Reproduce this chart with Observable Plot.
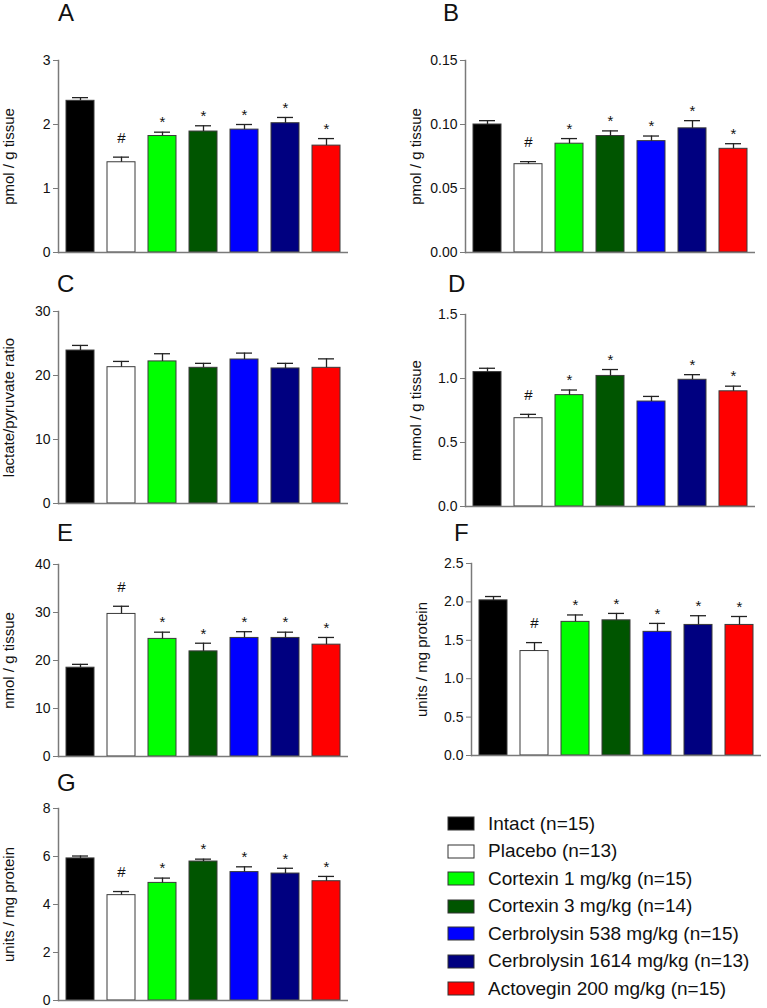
<!DOCTYPE html>
<html>
<head>
<meta charset="utf-8">
<script src="https://cdn.jsdelivr.net/npm/d3@7"></script>
<script src="https://cdn.jsdelivr.net/npm/@observablehq/plot@0.6"></script>
<style>
  html, body { margin: 0; padding: 0; background: #fff; }
  #root { position: relative; width: 767px; height: 1008px; overflow: hidden; font-family: "Liberation Sans", Arial, sans-serif; }
  .panel { position: absolute; }
  #letters { position: absolute; left: 0; top: 0; }
  #legend { position: absolute; left: 448px; top: 810px; }
  .leg-swatches { font-family: "Liberation Sans", Arial, sans-serif; font-size: 19px; color: #111; margin: 0; }
  .leg-swatch { height: 27.5px; margin: 0 !important; padding: 0 !important; display: flex; align-items: center; }
  .leg-swatch svg { margin-right: 14px !important; overflow: visible; }
  .leg-swatch svg rect { stroke: #333; stroke-width: 1; }
</style>
</head>
<body>
<div id="root"></div>
<script>
// ---- data ----
const groups = [
  "Intact (n=15)",
  "Placebo (n=13)",
  "Cortexin 1 mg/kg (n=15)",
  "Cortexin 3 mg/kg (n=14)",
  "Cerbrolysin 538 mg/kg (n=15)",
  "Cerbrolysin 1614 mg/kg (n=13)",
  "Actovegin 200 mg/kg (n=15)"
];
const colors = ["#000000", "#ffffff", "#00ff00", "#005500", "#0000ff", "#000080", "#ff0000"];

const valuesA = [2.37, 1.41, 1.82, 1.89, 1.92, 2.02, 1.67];
const errorsA = [0.05, 0.08, 0.06, 0.09, 0.08, 0.09, 0.11];
const signsA  = ["", "#", "*", "*", "*", "*", "*"];
const ticksA  = [0, 1, 2, 3];

const valuesB = [0.100, 0.069, 0.085, 0.091, 0.087, 0.097, 0.081];
const errorsB = [0.003, 0.002, 0.004, 0.004, 0.004, 0.006, 0.004];
const signsB  = ["", "#", "*", "*", "*", "*", "*"];
const ticksB  = [0, 0.05, 0.10, 0.15];

const valuesC = [23.9, 21.3, 22.2, 21.2, 22.5, 21.1, 21.2];
const errorsC = [0.8, 0.9, 1.2, 0.7, 1.0, 0.8, 1.4];
const signsC  = ["", "", "", "", "", "", ""];
const ticksC  = [0, 10, 20, 30];

const valuesD = [1.05, 0.69, 0.87, 1.02, 0.82, 0.99, 0.90];
const errorsD = [0.03, 0.03, 0.04, 0.05, 0.04, 0.04, 0.04];
const signsD  = ["", "#", "*", "*", "", "*", "*"];
const ticksD  = [0, 0.5, 1.0, 1.5];

const valuesE = [18.5, 29.7, 24.5, 21.9, 24.7, 24.7, 23.3];
const errorsE = [0.7, 1.6, 1.4, 1.7, 1.3, 1.2, 1.5];
const signsE  = ["", "#", "*", "*", "*", "*", "*"];
const ticksE  = [0, 10, 20, 30, 40];

const valuesF = [2.02, 1.36, 1.74, 1.76, 1.61, 1.70, 1.70];
const errorsF = [0.05, 0.11, 0.09, 0.09, 0.11, 0.12, 0.11];
const signsF  = ["", "#", "*", "*", "*", "*", "*"];
const ticksF  = [0, 0.5, 1.0, 1.5, 2.0, 2.5];

const valuesG = [5.92, 4.39, 4.90, 5.79, 5.35, 5.29, 4.97];
const errorsG = [0.10, 0.15, 0.20, 0.10, 0.22, 0.22, 0.20];
const signsG  = ["", "#", "*", "*", "*", "*", "*"];
const ticksG  = [0, 2, 4, 6, 8];

// ---- drawing ----
const FONT = '"Liberation Sans", Arial, sans-serif';
const AXIS = "#7a7a7a";
const root = document.getElementById("root");

function panel({values, errors, signs, ticks, fmt, label, left, top}) {
  const data = groups.map((g, i) => ({g, v: values[i], e: errors[i], s: signs[i]}));
  const mT = 20, mB = 12, H = 192;
  const chart = Plot.plot({
    width: 360,
    height: mT + H + mB,
    marginLeft: 58, marginRight: 12, marginTop: mT, marginBottom: mB,
    style: {fontFamily: FONT, fontSize: "14px", background: "transparent", overflow: "visible", color: "#111"},
    x: {type: "band", domain: groups, paddingInner: 0.32, paddingOuter: 0.18, axis: null},
    y: {domain: [0, ticks[ticks.length - 1]], axis: null},
    color: {domain: groups, range: colors},
    marks: [
      Plot.barY(data, {x: "g", y: "v", fill: "g", stroke: "#3a3a3a", strokeWidth: 1}),
      Plot.ruleX(data, {x: "g", y1: "v", y2: d => d.v + d.e, stroke: "#222", strokeWidth: 1.3}),
      Plot.tickY(data, {x: "g", y: d => d.v + d.e, stroke: "#222", strokeWidth: 1.3, insetLeft: 6, insetRight: 6}),
      Plot.text(data.filter(d => d.s === "*"), {x: "g", y: d => d.v + d.e, text: "s", dy: -9.5, fontSize: 15, fill: "#111"}),
      Plot.text(data.filter(d => d.s === "#"), {x: "g", y: d => d.v + d.e, text: "s", dy: -19, fontSize: 15, fill: "#111"}),
      Plot.axisY({ticks, tickFormat: fmt, tickSize: 5, tickPadding: 3, stroke: AXIS, fill: "#111", fontSize: 14, label: null}),
      Plot.text([label], {frameAnchor: "left", rotate: -90, textAnchor: "middle", lineAnchor: "bottom", dx: -45, fontSize: 15, fill: "#111"}),
      Plot.frame({anchor: "left", stroke: AXIS, strokeWidth: 1.5}),
      Plot.ruleY([0], {stroke: AXIS, strokeWidth: 1.5})
    ]
  });
  chart.classList.add("panel");
  chart.style.left = left + "px";
  chart.style.top = (top - mT) + "px";
  root.appendChild(chart);
}

const f0 = d3.format("d"), f1 = d3.format(".1f"), f2 = d3.format(".2f");
panel({values: valuesA, errors: errorsA, signs: signsA, ticks: ticksA, fmt: f0, label: "pmol / g tissue", left: 0, top: 60});
panel({values: valuesB, errors: errorsB, signs: signsB, ticks: ticksB, fmt: f2, label: "pmol / g tissue", left: 407, top: 60});
panel({values: valuesC, errors: errorsC, signs: signsC, ticks: ticksC, fmt: f0, label: "lactate/pyruvate ratio", left: 0, top: 311});
panel({values: valuesD, errors: errorsD, signs: signsD, ticks: ticksD, fmt: f1, label: "mmol / g tissue", left: 407, top: 314});
panel({values: valuesE, errors: errorsE, signs: signsE, ticks: ticksE, fmt: f0, label: "nmol / g tissue", left: 0, top: 564});
panel({values: valuesF, errors: errorsF, signs: signsF, ticks: ticksF, fmt: f1, label: "units / mg protein", left: 413, top: 563});
panel({values: valuesG, errors: errorsG, signs: signsG, ticks: ticksG, fmt: f0, label: "units / mg protein", left: 0, top: 808});

// panel letters
const letters = [["A", 58, 21], ["B", 443, 21], ["C", 57, 292], ["D", 448, 292], ["E", 57, 541], ["F", 454, 541], ["G", 57, 791]];
const svgNS = "http://www.w3.org/2000/svg";
const ls = document.createElementNS(svgNS, "svg");
ls.setAttribute("id", "letters");
ls.setAttribute("width", 767); ls.setAttribute("height", 1008);
for (const [t, x, y] of letters) {
  const el = document.createElementNS(svgNS, "text");
  el.setAttribute("x", x); el.setAttribute("y", y);
  el.setAttribute("font-family", FONT); el.setAttribute("font-size", 24); el.setAttribute("fill", "#111");
  el.textContent = t;
  ls.appendChild(el);
}
root.appendChild(ls);

// legend
const leg = Plot.legend({
  color: {type: "ordinal", domain: groups, range: colors},
  legend: "swatches",
  columns: 1,
  swatchWidth: 26,
  swatchHeight: 13,
  className: "leg"
});
const legWrap = document.createElement("div");
legWrap.id = "legend";
legWrap.appendChild(leg);
root.appendChild(legWrap);
</script>
</body>
</html>
